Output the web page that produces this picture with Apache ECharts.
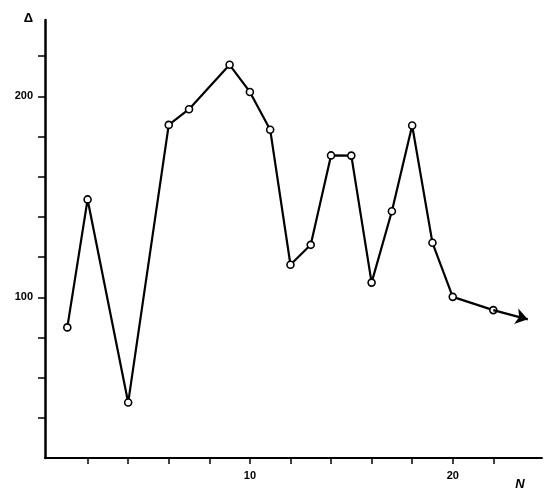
<!DOCTYPE html>
<html>
<head>
<meta charset="utf-8">
<script src="https://cdn.jsdelivr.net/npm/echarts@6/dist/echarts.min.js"></script>
<style>html,body{margin:0;padding:0;background:#fff}#c{width:545px;height:491px}</style>
</head>
<body>
<div id="c"></div>
<script>
var nValues = [1, 2, 4, 6, 7, 9, 10, 11, 12, 13, 14, 15, 16, 17, 18, 19, 20, 22];
var deltaValues = [85, 148.7, 47.6, 185.8, 193.6, 215.7, 202.2, 183.4, 116.2, 126.1, 170.6, 170.5, 107.3, 142.8, 185.5, 127.1, 100.2, 93.6];
var arrowEnd = [23.7, 89];
var xTicks = [2, 4, 6, 8, 10, 12, 14, 16, 18, 20, 22];
var xLabels = [10, 20];
var yTicks = [40, 60, 80, 100, 120, 140, 160, 180, 200, 220];
var yLabels = [100, 200];

var points = nValues.map(function (n, i) { return [n, deltaValues[i]]; });
var last = points[points.length - 1];

var chart = echarts.init(document.getElementById('c'));
var font = 'Liberation Sans';
chart.setOption({
  animation: false,
  backgroundColor: '#fff',
  grid: { left: 45, top: 20, width: 497, height: 440 },
  xAxis: {
    type: 'value', min: -0.1, max: 24.4,
    name: 'N', nameLocation: 'end', nameGap: -22,
    nameTextStyle: { fontFamily: font, fontStyle: 'italic', fontWeight: 'bold', fontSize: 13, color: '#000', align: 'center', verticalAlign: 'top', padding: [20, 0, 0, 0] },
    axisLine: { show: true, onZero: false, lineStyle: { color: '#000', width: 2 } },
    axisTick: { show: true, customValues: xTicks, length: 6, lineStyle: { color: '#000', width: 1.5 } },
    axisLabel: { show: true, customValues: xLabels, color: '#000', fontFamily: font, fontWeight: 'bold', fontSize: 11, margin: 12 },
    splitLine: { show: false }
  },
  yAxis: {
    type: 'value', min: 20, max: 238,
    name: 'Δ', nameLocation: 'end', nameGap: 2,
    nameTextStyle: { fontFamily: font, fontWeight: 'bold', fontSize: 13, color: '#000', align: 'right', verticalAlign: 'middle', padding: [0, 12, 0, 0] },
    axisLine: { show: true, onZero: false, lineStyle: { color: '#000', width: 2.5 } },
    axisTick: { show: true, customValues: yTicks, length: 7, lineStyle: { color: '#000', width: 1.5 } },
    axisLabel: { show: true, customValues: yLabels, color: '#000', fontFamily: font, fontWeight: 'bold', fontSize: 11, margin: 12 },
    splitLine: { show: false }
  },
  series: [{
    type: 'line',
    data: points,
    symbol: 'circle',
    symbolSize: 7,
    itemStyle: { color: '#fff', borderColor: '#000', borderWidth: 1.6 },
    lineStyle: { color: '#000', width: 2.2 },
    z: 3
  }, {
    type: 'line',
    data: [],
    color: '#000',
    z: 2,
    markLine: {
      silent: true,
      symbol: ['none', 'arrow'],
      symbolSize: 12,
      label: { show: false },
      itemStyle: { color: '#000' },
      lineStyle: { color: '#000', width: 2.2, type: 'solid' },
      data: [[{ coord: last }, { coord: arrowEnd }]]
    }
  }]
});
</script>
</body>
</html>
